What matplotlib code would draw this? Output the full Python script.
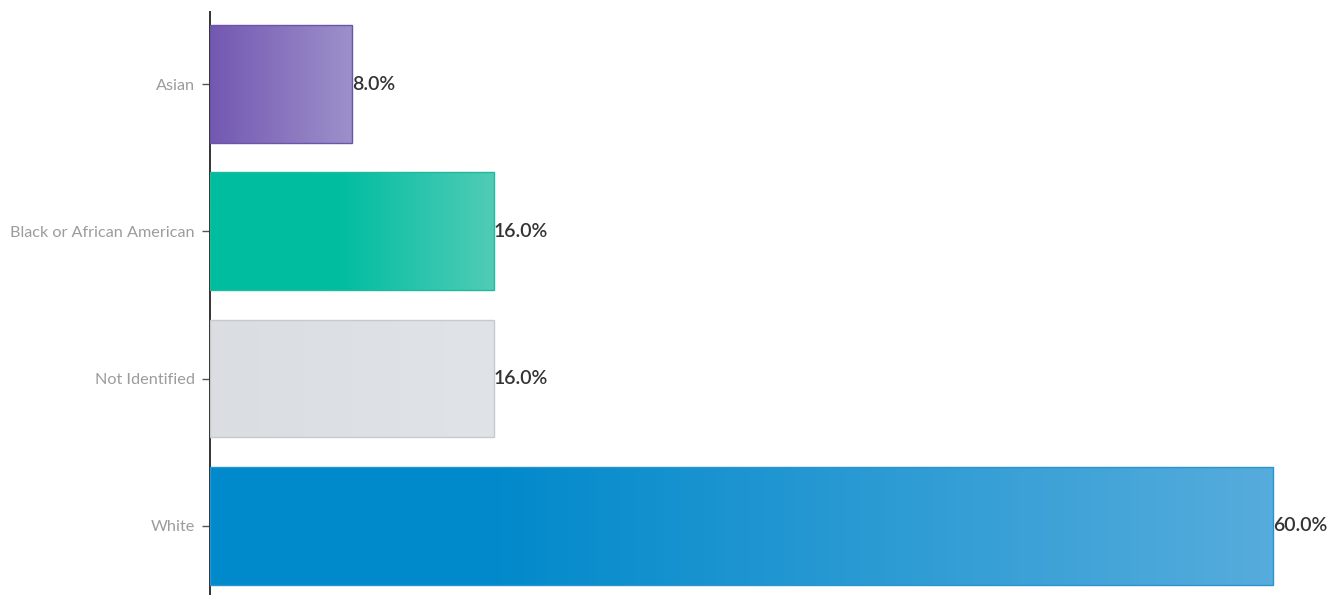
import numpy as np
import matplotlib
matplotlib.use("Agg")
import matplotlib.pyplot as plt
from matplotlib.colors import LinearSegmentedColormap

categories = ["Asian", "Black or African American", "Not Identified", "White"]
values = [8.0, 16.0, 16.0, 60.0]
value_labels = ["8.0%", "16.0%", "16.0%", "60.0%"]

# left -> right gradient stops, where the fade starts, and outline for each bar
grad_left = ["#7358b2", "#00bda0", "#dadee2", "#0089cb"]
grad_right = ["#9d90ca", "#50ccb6", "#e0e3e7", "#56acdc"]
fade_start = [0.0, 0.45, 0.0, 0.25]
edge_colors = ["#6a55a8", "#22b89c", "#c6cacd", "#2a94cf"]

plt.rcParams["font.family"] = ["Lato", "DejaVu Sans"]

W, H = 1344, 595
fig = plt.figure(figsize=(W / 100, H / 100), dpi=100)
ax = fig.add_axes([210 / W, 0, (W - 210) / W, (H - 12) / H])

px_per_unit = 17.72
ax.set_xlim(0, (W - 210) / px_per_unit)
ax.set_ylim(3.47, -0.49)

y = np.arange(len(categories))
bars = ax.barh(y, values, height=0.8, color="none", edgecolor="none", zorder=2)

grad = np.linspace(0, 1, 256).reshape(1, -1)
for bar, c0, c1, f, ec in zip(bars, grad_left, grad_right, fade_start, edge_colors):
    x0, y0 = bar.get_x(), bar.get_y()
    w, h = bar.get_width(), bar.get_height()
    cmap = LinearSegmentedColormap.from_list("g", [(0, c0), (f, c0), (1, c1)], N=256)
    im = ax.imshow(grad, cmap=cmap, aspect="auto",
                   extent=(x0, x0 + w, y0 + h, y0), zorder=1,
                   interpolation="bilinear")
    im.set_clip_path(bar)
    ax.add_patch(plt.Rectangle((x0, y0), w, h, fill=False,
                               edgecolor=ec, linewidth=1.0, zorder=3))

for yi, v, lab in zip(y, values, value_labels):
    ax.text(v, yi, lab, va="center", ha="left", fontsize=14,
            fontweight="semibold", color="#333333", zorder=4)

ax.set_yticks(y)
ax.set_yticklabels(categories, fontsize=11.7, color="#9c9c9c")
ax.tick_params(axis="y", length=6, width=1, color="#555555", pad=5)
ax.set_xticks([])
for s in ["top", "right", "bottom"]:
    ax.spines[s].set_visible(False)
ax.spines["left"].set_color("#333333")
ax.spines["left"].set_linewidth(1.4)

fig.savefig("out.png", dpi=100, facecolor="white")
